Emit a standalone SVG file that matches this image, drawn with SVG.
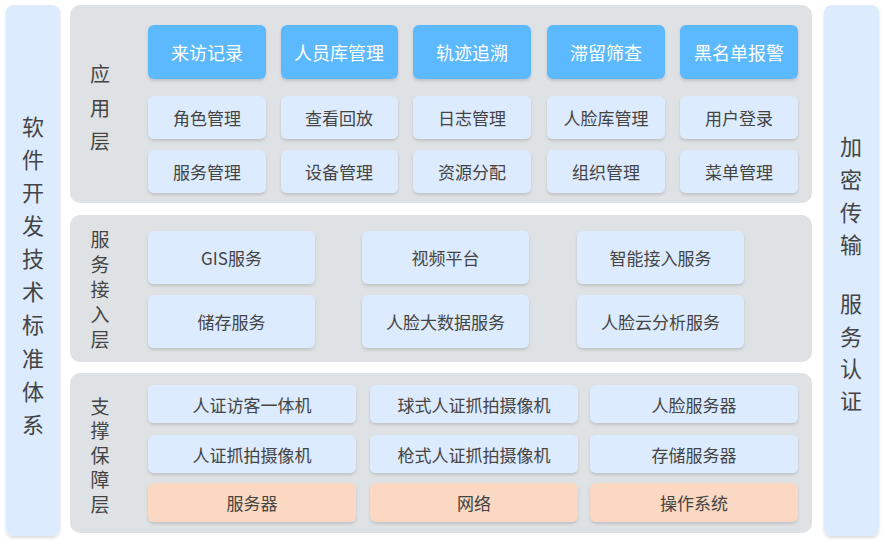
<svg xmlns="http://www.w3.org/2000/svg" width="887" height="546" viewBox="0 0 887 546">
<defs>
<filter id="sh" x="-10%" y="-20%" width="120%" height="150%">
<feDropShadow dx="0" dy="2" stdDeviation="1.6" flood-color="#000" flood-opacity="0.14"/>
</filter>
<style>
text{font-family:"Noto Sans CJK SC","Noto Sans",sans-serif;fill:#444;text-anchor:middle;dominant-baseline:central}
.side{fill:#DDEBFE}
.panel{fill:#DFE2E5}
.hi{fill:#5DB9FE}
.lb{fill:#DDEBFE}
.or{fill:#FAD8C2}
.t18{font-size:17px}
.tw{fill:#fff;font-size:18px}
.big{font-size:22px}
.lay{font-size:20px}
.lay2{font-size:19px}
</style>
</defs>
<rect width="887" height="546" fill="#fff"/>

<g id="left-col">
<rect class="side" x="6" y="5" width="54" height="531" rx="8" filter="url(#sh)"/>
<text class="big" x="33" y="125">软</text>
<text class="big" x="33" y="158">件</text>
<text class="big" x="33" y="191">开</text>
<text class="big" x="33" y="224">发</text>
<text class="big" x="33" y="257">技</text>
<text class="big" x="33" y="290">术</text>
<text class="big" x="33" y="323">标</text>
<text class="big" x="33" y="357">准</text>
<text class="big" x="33" y="390">体</text>
<text class="big" x="33" y="423">系</text>
</g>

<g id="right-col">
<rect class="side" x="824" y="5" width="55" height="531" rx="8" filter="url(#sh)"/>
<text class="big" x="851" y="145">加</text>
<text class="big" x="851" y="178">密</text>
<text class="big" x="851" y="211">传</text>
<text class="big" x="851" y="243">输</text>
<text class="big" x="851" y="302">服</text>
<text class="big" x="851" y="335">务</text>
<text class="big" x="851" y="367">认</text>
<text class="big" x="851" y="399">证</text>
</g>

<g id="app-layer">
<rect class="panel" x="70" y="5" width="742" height="198" rx="10"/>
<text class="lay" x="100" y="73">应</text>
<text class="lay" x="100" y="107">用</text>
<text class="lay" x="100" y="140">层</text>
</g>
<g id="app-nodes">
<g id="n-laifang"><rect class="hi" x="148" y="25" width="118" height="54" rx="6" filter="url(#sh)"/><text class="tw" x="207" y="52">来访记录</text></g>
<g id="n-renyuanku"><rect class="hi" x="281" y="25" width="117" height="54" rx="6" filter="url(#sh)"/><text class="tw" x="339" y="52">人员库管理</text></g>
<g id="n-guiji"><rect class="hi" x="413" y="25" width="118" height="54" rx="6" filter="url(#sh)"/><text class="tw" x="472" y="52">轨迹追溯</text></g>
<g id="n-zhiliu"><rect class="hi" x="547" y="25" width="118" height="54" rx="6" filter="url(#sh)"/><text class="tw" x="606" y="52">滞留筛查</text></g>
<g id="n-heimingdan"><rect class="hi" x="680" y="25" width="118" height="54" rx="6" filter="url(#sh)"/><text class="tw" x="739" y="52">黑名单报警</text></g>

<g id="n-juese"><rect class="lb" x="148" y="96" width="118" height="43" rx="6" filter="url(#sh)"/><text class="t18" x="207" y="117.5">角色管理</text></g>
<g id="n-chakan"><rect class="lb" x="281" y="96" width="117" height="43" rx="6" filter="url(#sh)"/><text class="t18" x="339" y="117.5">查看回放</text></g>
<g id="n-rizhi"><rect class="lb" x="413" y="96" width="118" height="43" rx="6" filter="url(#sh)"/><text class="t18" x="472" y="117.5">日志管理</text></g>
<g id="n-renlianku"><rect class="lb" x="547" y="96" width="118" height="43" rx="6" filter="url(#sh)"/><text class="t18" x="606" y="117.5">人脸库管理</text></g>
<g id="n-yonghu"><rect class="lb" x="680" y="96" width="118" height="43" rx="6" filter="url(#sh)"/><text class="t18" x="739" y="117.5">用户登录</text></g>

<g id="n-fuwu"><rect class="lb" x="148" y="150" width="118" height="43" rx="6" filter="url(#sh)"/><text class="t18" x="207" y="171.5">服务管理</text></g>
<g id="n-shebei"><rect class="lb" x="281" y="150" width="117" height="43" rx="6" filter="url(#sh)"/><text class="t18" x="339" y="171.5">设备管理</text></g>
<g id="n-ziyuan"><rect class="lb" x="413" y="150" width="118" height="43" rx="6" filter="url(#sh)"/><text class="t18" x="472" y="171.5">资源分配</text></g>
<g id="n-zuzhi"><rect class="lb" x="547" y="150" width="118" height="43" rx="6" filter="url(#sh)"/><text class="t18" x="606" y="171.5">组织管理</text></g>
<g id="n-caidan"><rect class="lb" x="680" y="150" width="118" height="43" rx="6" filter="url(#sh)"/><text class="t18" x="739" y="171.5">菜单管理</text></g>
</g>

<g id="service-layer">
<rect class="panel" x="70" y="215" width="742" height="147" rx="10"/>
<text class="lay2" x="100" y="238">服</text>
<text class="lay2" x="100" y="263">务</text>
<text class="lay2" x="100" y="288">接</text>
<text class="lay2" x="100" y="313">入</text>
<text class="lay2" x="100" y="338">层</text>
</g>
<g id="service-nodes">
<g id="n-gis"><rect class="lb" x="148" y="231" width="167" height="53" rx="6" filter="url(#sh)"/><text class="t18" x="231.5" y="257.5">GIS服务</text></g>
<g id="n-shipin"><rect class="lb" x="362" y="231" width="167" height="53" rx="6" filter="url(#sh)"/><text class="t18" x="445.5" y="257.5">视频平台</text></g>
<g id="n-zhineng"><rect class="lb" x="577" y="231" width="167" height="53" rx="6" filter="url(#sh)"/><text class="t18" x="660.5" y="257.5">智能接入服务</text></g>
<g id="n-chucun"><rect class="lb" x="148" y="295" width="167" height="53" rx="6" filter="url(#sh)"/><text class="t18" x="231.5" y="321.5">储存服务</text></g>
<g id="n-dashuju"><rect class="lb" x="362" y="295" width="167" height="53" rx="6" filter="url(#sh)"/><text class="t18" x="445.5" y="321.5">人脸大数据服务</text></g>
<g id="n-yunfenxi"><rect class="lb" x="577" y="295" width="167" height="53" rx="6" filter="url(#sh)"/><text class="t18" x="660.5" y="321.5">人脸云分析服务</text></g>
</g>

<g id="support-layer">
<rect class="panel" x="70" y="373" width="742" height="160" rx="10"/>
<text class="lay2" x="100" y="405">支</text>
<text class="lay2" x="100" y="429.5">撑</text>
<text class="lay2" x="100" y="454">保</text>
<text class="lay2" x="100" y="478.5">障</text>
<text class="lay2" x="100" y="503">层</text>
</g>
<g id="support-nodes">
<g id="n-fangke"><rect class="lb" x="148" y="385" width="208" height="38" rx="6" filter="url(#sh)"/><text class="t18" x="252" y="404">人证访客一体机</text></g>
<g id="n-qiushi"><rect class="lb" x="370" y="385" width="208" height="38" rx="6" filter="url(#sh)"/><text class="t18" x="474" y="404">球式人证抓拍摄像机</text></g>
<g id="n-renlianfwq"><rect class="lb" x="590" y="385" width="208" height="38" rx="6" filter="url(#sh)"/><text class="t18" x="694" y="404">人脸服务器</text></g>
<g id="n-zhuapai"><rect class="lb" x="148" y="435" width="208" height="38" rx="6" filter="url(#sh)"/><text class="t18" x="252" y="454">人证抓拍摄像机</text></g>
<g id="n-qiangshi"><rect class="lb" x="370" y="435" width="208" height="38" rx="6" filter="url(#sh)"/><text class="t18" x="474" y="454">枪式人证抓拍摄像机</text></g>
<g id="n-cunchu"><rect class="lb" x="590" y="435" width="208" height="38" rx="6" filter="url(#sh)"/><text class="t18" x="694" y="454">存储服务器</text></g>
<g id="n-fuwuqi"><rect class="or" x="148" y="483" width="208" height="39" rx="6" filter="url(#sh)"/><text class="t18" x="252" y="502.5">服务器</text></g>
<g id="n-wangluo"><rect class="or" x="370" y="483" width="208" height="39" rx="6" filter="url(#sh)"/><text class="t18" x="474" y="502.5">网络</text></g>
<g id="n-caozuo"><rect class="or" x="590" y="483" width="208" height="39" rx="6" filter="url(#sh)"/><text class="t18" x="694" y="502.5">操作系统</text></g>
</g>

<g id="connectors"></g>
</svg>
